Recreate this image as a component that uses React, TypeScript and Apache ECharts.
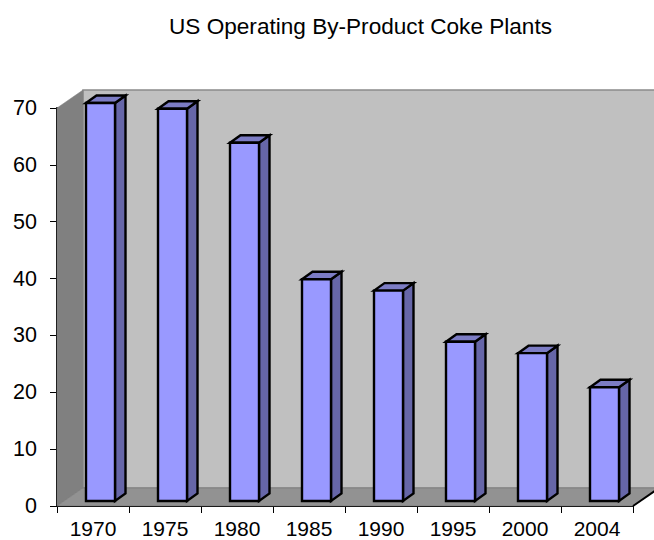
import React, { useEffect, useRef } from "react";
import * as echarts from "echarts";

const chartTitle = "US Operating By-Product Coke Plants";
const years = ["1970", "1975", "1980", "1985", "1990", "1995", "2000", "2004"];
const plants = [70, 69, 63, 39, 37, 28, 26, 20];
const yTicks = { min: 0, max: 70, interval: 10 };

const FONT = '"Liberation Sans", Arial, sans-serif';
// Oblique projection of the 3D box and of each column
const WALL_DX = 26;
const WALL_DY = -18;
const BAR_SHIFT_X = 7.5;
const BAR_SHIFT_Y = -5;
const BAR_WIDTH = 29;
const BAR_DX = 10.5;
const BAR_DY = -7.5;
const pts = (...p: number[][]) => ({ points: p });

export default function App() {
  const ref = useRef<HTMLDivElement>(null);
  useEffect(() => {
    const chart = echarts.init(ref.current!, null, { renderer: "svg" });
    chart.setOption({
      animation: false,
      backgroundColor: "#ffffff",
      title: {
        text: chartTitle,
        left: 355.5,
        top: 10,
        textAlign: "center",
        textStyle: { fontFamily: FONT, fontSize: 22.6, fontWeight: "normal", color: "#000" },
      },
      grid: { left: 57, right: 21, top: 108, bottom: 34, outerBoundsMode: "none", containLabel: false },
      xAxis: {
        type: "category",
        data: years,
        boundaryGap: true,
        axisLine: { lineStyle: { color: "#000", width: 2 } },
        axisTick: { show: true, length: 7, alignWithLabel: false, interval: 0, lineStyle: { color: "#000", width: 1 } },
        axisLabel: { fontFamily: FONT, fontSize: 21, color: "#000", margin: 12, interval: 0 },
        splitLine: { show: false },
      },
      yAxis: {
        type: "value",
        min: yTicks.min,
        max: yTicks.max,
        interval: yTicks.interval,
        axisLine: { show: true, lineStyle: { color: "#000", width: 2 } },
        axisTick: { show: true, length: 7, lineStyle: { color: "#000", width: 1 } },
        axisLabel: { fontFamily: FONT, fontSize: 21.5, color: "#000", margin: 20 },
        splitLine: { show: false },
      },
      series: [
        {
          // Back wall, side wall and floor of the box
          type: "custom",
          z: 1,
          silent: true,
          clip: false,
          data: [[0, 0]],
          encode: { x: 0, y: 1 },
          renderItem: (_p: any, api: any) => {
            const [x0, y0] = api.coord([0, 0]);
            const [, yTop] = api.coord([0, yTicks.max]);
            const left = x0 - api.size([1, 0])[0] / 2;
            const right = left + api.size([1, 0])[0] * years.length;
            return {
              type: "group",
              children: [
                {
                  type: "polygon",
                  shape: pts(
                    [left + WALL_DX, yTop + WALL_DY],
                    [right + WALL_DX, yTop + WALL_DY],
                    [right + WALL_DX, y0 + WALL_DY],
                    [left + WALL_DX, y0 + WALL_DY]
                  ),
                  style: { fill: "#c0c0c0", stroke: "#8a8a8a", lineWidth: 1.5 },
                },
                {
                  type: "polygon",
                  shape: pts(
                    [left, yTop],
                    [left + WALL_DX, yTop + WALL_DY],
                    [left + WALL_DX, y0 + WALL_DY],
                    [left, y0]
                  ),
                  style: { fill: "#808080", stroke: "#808080", lineWidth: 0.5 },
                },
                {
                  type: "polygon",
                  shape: pts(
                    [left, y0],
                    [left + WALL_DX, y0 + WALL_DY],
                    [right + WALL_DX, y0 + WALL_DY],
                    [right, y0]
                  ),
                  style: { fill: "#929292", stroke: "#6e6e6e", lineWidth: 0.5 },
                },
                {
                  // Dark edge running back from the right end of the category axis
                  type: "line",
                  shape: { x1: right, y1: y0, x2: right + WALL_DX, y2: y0 + WALL_DY },
                  style: { stroke: "#000", lineWidth: 2 },
                },
              ],
            };
          },
        },
        {
          // Columns: front, side and top faces
          type: "custom",
          z: 2,
          silent: true,
          clip: false,
          data: plants.map((v, i) => [i, v]),
          encode: { x: 0, y: 1 },
          renderItem: (_p: any, api: any) => {
            const i = api.value(0);
            const [cx, yv] = api.coord([i, api.value(1)]);
            const [, y0] = api.coord([i, 0]);
            const x1 = cx + BAR_SHIFT_X - BAR_WIDTH / 2;
            const x2 = x1 + BAR_WIDTH;
            const t = yv + BAR_SHIFT_Y;
            const b = y0 + BAR_SHIFT_Y;
            const edge = { stroke: "#000", lineWidth: 2.4, lineJoin: "miter" };
            return {
              type: "group",
              children: [
                {
                  type: "polygon",
                  shape: pts([x2, t], [x2 + BAR_DX, t + BAR_DY], [x2 + BAR_DX, b + BAR_DY], [x2, b]),
                  style: { fill: "#6666a8", ...edge },
                },
                {
                  type: "polygon",
                  shape: pts([x1, t], [x1 + BAR_DX, t + BAR_DY], [x2 + BAR_DX, t + BAR_DY], [x2, t]),
                  style: { fill: "#7c7cc4", ...edge },
                },
                {
                  type: "polygon",
                  shape: pts([x1, t], [x2, t], [x2, b], [x1, b]),
                  style: { fill: "#9999ff", ...edge },
                },
              ],
            };
          },
        },
      ],
    });
    return () => chart.dispose();
  }, []);
  return <div ref={ref} style={{ position: "fixed", left: 0, top: 0, width: 654, height: 540 }} />;
}
